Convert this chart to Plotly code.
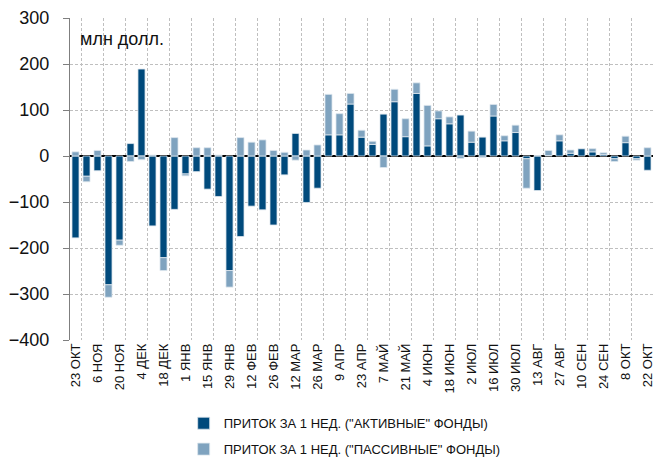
import plotly.graph_objects as go

weeks = ["23 ОКТ", "30 ОКТ", "6 НОЯ", "13 НОЯ", "20 НОЯ", "27 НОЯ", "4 ДЕК", "11 ДЕК",
         "18 ДЕК", "25 ДЕК", "1 ЯНВ", "8 ЯНВ", "15 ЯНВ", "22 ЯНВ", "29 ЯНВ", "5 ФЕВ",
         "12 ФЕВ", "19 ФЕВ", "26 ФЕВ", "5 МАР", "12 МАР", "19 МАР", "26 МАР", "2 АПР",
         "9 АПР", "16 АПР", "23 АПР", "30 АПР", "7 МАЙ", "14 МАЙ", "21 МАЙ", "28 МАЙ",
         "4 ИЮН", "11 ИЮН", "18 ИЮН", "25 ИЮН", "2 ИЮЛ", "9 ИЮЛ", "16 ИЮЛ", "23 ИЮЛ",
         "30 ИЮЛ", "6 АВГ", "13 АВГ", "20 АВГ", "27 АВГ", "3 СЕН", "10 СЕН", "17 СЕН",
         "24 СЕН", "1 ОКТ", "8 ОКТ", "15 ОКТ", "22 ОКТ"]

active = [-178, -44, -32, -280, -183, 27, 189, -152, -221, -116, -39, -34, -72, -88,
          -249, -175, -109, -117, -150, -41, 49, -101, -70, 46, 46, 113, 41, 25,
          91, 118, 42, 136, 22, 81, 70, 89, 30, 41, 87, 33, 51, -6, -75, 1,
          33, 6, 16, 9, 3, -6, 29, -6, -31]

passive = [9, -12, 12, -27, -11, -12, -8, 2, -28, 40, -4, 18, 18, 2,
           -36, 40, 30, 35, 12, 8, -9, 13, 24, 88, 46, 23, 15, 7,
           -25, 27, 39, 23, 88, 17, 15, -5, 24, -3, 25, 11, 16, -64, 1, 11,
           13, 7, 0, 7, 4, -6, 14, -3, 18]

yticks = [300, 200, 100, 0, -100, -200, -300, -400]

series_names = ['ПРИТОК ЗА 1 НЕД. ("АКТИВНЫЕ" ФОНДЫ)', 'ПРИТОК ЗА 1 НЕД. ("ПАССИВНЫЕ" ФОНДЫ)']
colors = ["#004A7C", "#7FA3BF"]

FONT = "Liberation Sans, Arial, sans-serif"
GRID = "#bfbfbf"

pos = list(range(len(weeks)))
label_pos = pos[::2]
label_text = weeks[::2]

fig = go.Figure()
fig.add_trace(go.Bar(x=pos, y=active, name=series_names[0], legendgroup="a",
                     hovertext=weeks,
                     marker=dict(color=colors[0], line=dict(color="#dde6ee", width=0.8))))
fig.add_trace(go.Bar(x=pos, y=passive, name=series_names[1], legendgroup="b",
                     hovertext=weeks,
                     marker=dict(color=colors[1], line=dict(color="#dde6ee", width=0.8))))

fig.update_layout(
    width=664, height=451,
    margin=dict(l=62, r=19, t=10, b=119, autoexpand=False),
    barmode="relative", bargap=0.36,
    plot_bgcolor="white", paper_bgcolor="white",
    font=dict(family=FONT, size=13, color="#111111"),
    xaxis=dict(type="linear", tickvals=label_pos, ticktext=label_text,
               tickangle=-90, showgrid=False, ticks="", showline=False,
               zeroline=False, range=[-0.5, len(weeks) - 0.5],
               tickfont=dict(size=13), ticklabeloverflow="allow",
               minor=dict(tick0=0.5, dtick=2, showgrid=True, gridcolor=GRID,
                          griddash="3px,2px", gridwidth=1, ticks="")),
    yaxis=dict(range=[-400, 300], tickvals=yticks, showgrid=True, gridcolor=GRID,
               griddash="3px,2px", gridwidth=1, zeroline=True, zerolinecolor="#000000",
               zerolinewidth=1.5, showline=True, linecolor="#7f7f7f", linewidth=1.3,
               ticks="outside", ticklen=6, tickcolor="#7f7f7f",
               tickfont=dict(size=18, color="#111111"),
               ticklabelstandoff=10, ticklabeloverflow="allow"),
    legend=dict(orientation="v", x=0.195, y=-0.212, xanchor="left", yanchor="top",
                traceorder="grouped", tracegroupgap=6, font=dict(size=13),
                bgcolor="rgba(0,0,0,0)"),
    annotations=[dict(text="млн долл.", xref="paper", yref="paper", x=0.0137, y=0.935,
                      xanchor="left", yanchor="middle", showarrow=False,
                      font=dict(size=18, color="#111111"))],
)

fig.write_html("out.html")
